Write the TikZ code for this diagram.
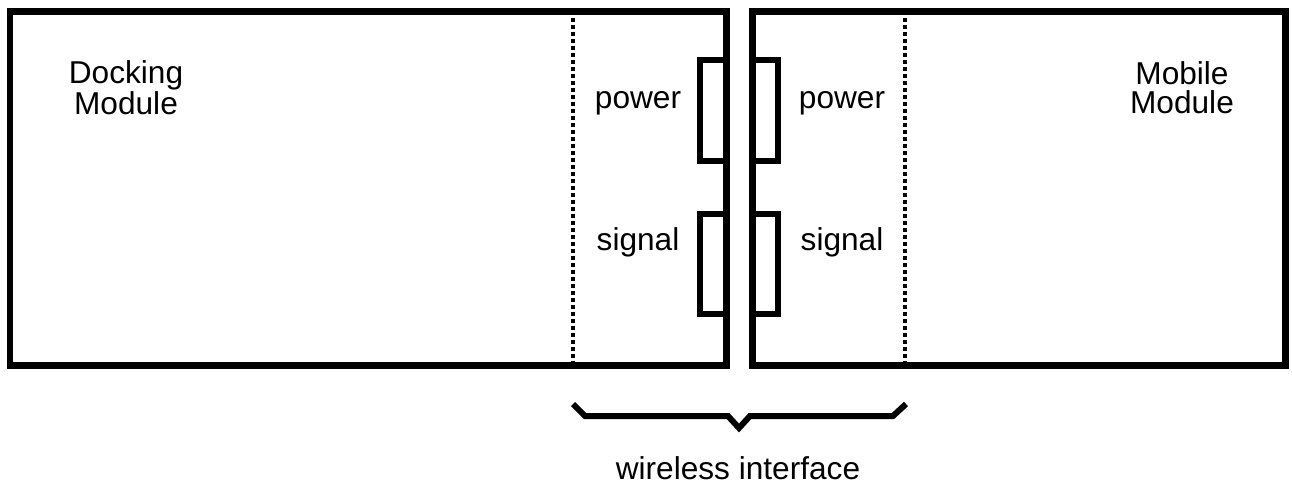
\documentclass[tikz,border=0pt]{standalone}
\usepackage{fontspec}
\setmainfont{Liberation Sans}
\usepackage{tikz}
\usetikzlibrary{positioning}

\tikzset{
  box/.style={line width=0.14cm},
  coil/.style={line width=0.12cm},
  dots/.style={line width=0.08cm, dash pattern=on 0.08cm off 0.06cm},
  lbl/.style={inner sep=0pt, font=\fontsize{18}{16.5}\selectfont},
}

\begin{document}
\begin{tikzpicture}[x=0.02cm, y=-0.02cm]
            \useasboundingbox (0,0) rectangle (1292,484);
            % the two modules
            \draw[box] (10,11) rectangle (726,365);
            \draw[box] (752,11) rectangle (1285,365);
            \draw[dots] (573,11)--(573,365);
            \draw[dots] (905,11)--(905,365);
            % coils
            \draw[coil] (726,60)--(700,60)--(700,161)--(726,161);
            \draw[coil] (726,214)--(700,214)--(700,314)--(726,314);
            \draw[coil] (752,60)--(778,60)--(778,161)--(752,161);
            \draw[coil] (752,214)--(778,214)--(778,314)--(752,314);
            \node[lbl, align=center] (dock) at (126,88) {Docking\\Module};
            \node[lbl, align=center] (mobile) at (1182,88) {Mobile\\Module};
            \node[lbl, anchor=base] (powerL) at (638,108) {power};
            \node[lbl, anchor=base] (signalL) at (638,250) {signal};
            \node[lbl, anchor=base] (powerR) at (842,108) {power};
            \node[lbl, anchor=base] (signalR) at (842,250) {signal};
            % brace
            \coordinate (braceL) at (573,404);
            \coordinate (braceR) at (906,404);
            \coordinate (braceTip) at (739,428);
            \draw[coil] (braceL)--(585,416)--(728,416)--(braceTip)--(750,416)--(893,416)--(braceR);
            \node[lbl, anchor=base] (wireless) at (738,479) {wireless interface};
\end{tikzpicture}
\end{document}
